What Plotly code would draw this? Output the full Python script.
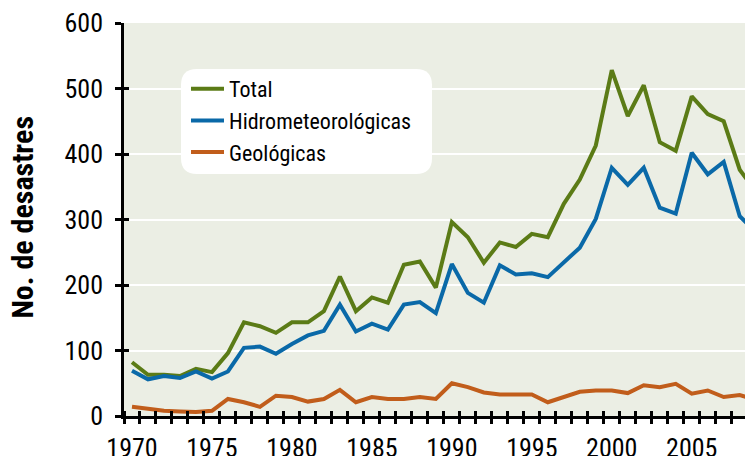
import plotly.graph_objects as go

years = list(range(1970, 2010))
total = [82, 63, 63, 61, 72, 67, 96, 143, 137, 127, 143, 143, 160, 213, 160, 181, 173, 231, 236, 196,
         296, 273, 234, 265, 258, 278, 273, 324, 361, 413, 528, 458, 505, 418, 405, 488, 461, 450, 376, 343]
hidro = [69, 56, 61, 58, 68, 57, 68, 104, 106, 95, 110, 123, 130, 170, 129, 141, 132, 170, 174, 157,
         232, 188, 173, 230, 216, 218, 212, 234, 257, 301, 379, 353, 379, 318, 309, 402, 369, 388, 305, 281]
geo = [14, 11, 8, 7, 6, 8, 26, 21, 14, 31, 29, 22, 26, 40, 21, 29, 26, 26, 29, 26,
       50, 44, 36, 33, 33, 33, 21, 29, 37, 39, 39, 35, 47, 44, 49, 34, 39, 29, 32, 25]
series_names = ["Total", "Hidrometeorológicas", "Geológicas"]
series_colors = ["#5B7B16", "#0A69A8", "#C15D1B"]
y_title = "No. de desastres"

# page is rendered with the default 8px body margin -> compensate
OFF = 8
PAGE_W, PAGE_H = 753, 456
W, H = PAGE_W - OFF, PAGE_H - OFF
# plot area in page pixels: left 124, top 23, bottom 416, right 753
P_L, P_T, P_B, P_R = 124, 23, 416, 753
ML, MT = P_L - OFF, P_T - OFF
MR, MB = PAGE_W - P_R, PAGE_H - P_B
PW, PH = W - ML - MR, H - MT - MB
XR = [1969.5, 2008.83]
YR = [0, 600]
FONT = "Liberation Sans Narrow, Arial Narrow, Roboto Condensed, DejaVu Sans Condensed, sans-serif"


def px2x(px):  # page pixel -> paper
    return (px - P_L) / PW


def px2y(py):
    return (P_B - py) / PH


fig = go.Figure()
for name, vals, col in zip(series_names, [total, hidro, geo], series_colors):
    fig.add_trace(go.Scatter(x=years, y=vals, name=name, mode="lines",
                             line=dict(color=col, width=4, shape="linear")))
# dummy trace to activate overlay axes (inside ticks)
fig.add_trace(go.Scatter(x=[], y=[], xaxis="x2", yaxis="y2", showlegend=False,
                         hoverinfo="skip"))

# rounded legend box
x0, x1, y0, y1, r = px2x(181), px2x(432), px2y(69), px2y(174), 16
rx, ry = r / PW, r / PH
path = (f"M {x0+rx},{y0} L {x1-rx},{y0} Q {x1},{y0} {x1},{y0-ry} "
        f"L {x1},{y1+ry} Q {x1},{y1} {x1-rx},{y1} L {x0+rx},{y1} Q {x0},{y1} {x0},{y1+ry} "
        f"L {x0},{y0-ry} Q {x0},{y0} {x0+rx},{y0} Z")
fig.add_shape(type="path", path=path, xref="paper", yref="paper",
              fillcolor="white", line=dict(width=0), layer="above")

fig.add_annotation(text=f"<b>{y_title}</b>", xref="paper", yref="paper",
                   x=px2x(22), y=px2y(217.5), textangle=-90, showarrow=False,
                   xanchor="center", yanchor="middle",
                   font=dict(family=FONT, size=30, color="black"))

tick_font = dict(family=FONT, size=26, color="black")
fig.update_layout(
    width=W, height=H,
    margin=dict(l=ML, r=MR, t=MT, b=MB, autoexpand=False),
    paper_bgcolor="white", plot_bgcolor="#EBEEE4",
    font=dict(family=FONT, color="black"),
    showlegend=True,
    legend=dict(x=px2x(186), y=px2y(68), xanchor="left", yanchor="top",
                bgcolor="rgba(0,0,0,0)", borderwidth=0,
                font=dict(family=FONT, size=22, color="black"),
                itemwidth=33, tracegroupgap=0),
    xaxis=dict(range=XR, tickmode="linear", tick0=1970, dtick=5, ticks="",
               showgrid=False, zeroline=False, showline=True, linecolor="black",
               linewidth=2.5, tickfont=tick_font, ticklabelstandoff=7, automargin=False,
               minor=dict(tickmode="linear", tick0=1969.5, dtick=1, ticks="outside",
                          ticklen=5, tickwidth=2.5, tickcolor="black", showgrid=False)),
    yaxis=dict(range=YR, tickmode="linear", tick0=0, dtick=100, ticks="outside",
               ticklen=6, tickwidth=2.5, tickcolor="black", automargin=False,
               showgrid=True, gridcolor="white", gridwidth=2, zeroline=False,
               showline=True, linecolor="black", linewidth=2.5,
               tickfont=tick_font, ticklabelstandoff=7),
    xaxis2=dict(range=XR, overlaying="x", anchor="y", side="bottom",
                tickmode="linear", tick0=1970, dtick=5,
                showticklabels=False, ticks="", showgrid=False, zeroline=False,
                showline=False, automargin=False,
                minor=dict(tickmode="linear", tick0=1969.5, dtick=1, ticks="inside",
                           ticklen=5, tickwidth=2.5, tickcolor="black", showgrid=False)),
    yaxis2=dict(range=YR, overlaying="y", anchor="x", side="left",
                tickmode="linear", tick0=0, dtick=100, ticks="inside", ticklen=5,
                tickwidth=2.5, tickcolor="black", showticklabels=False, automargin=False,
                showgrid=False, zeroline=False, showline=False),
)

fig.write_html("out.html")
